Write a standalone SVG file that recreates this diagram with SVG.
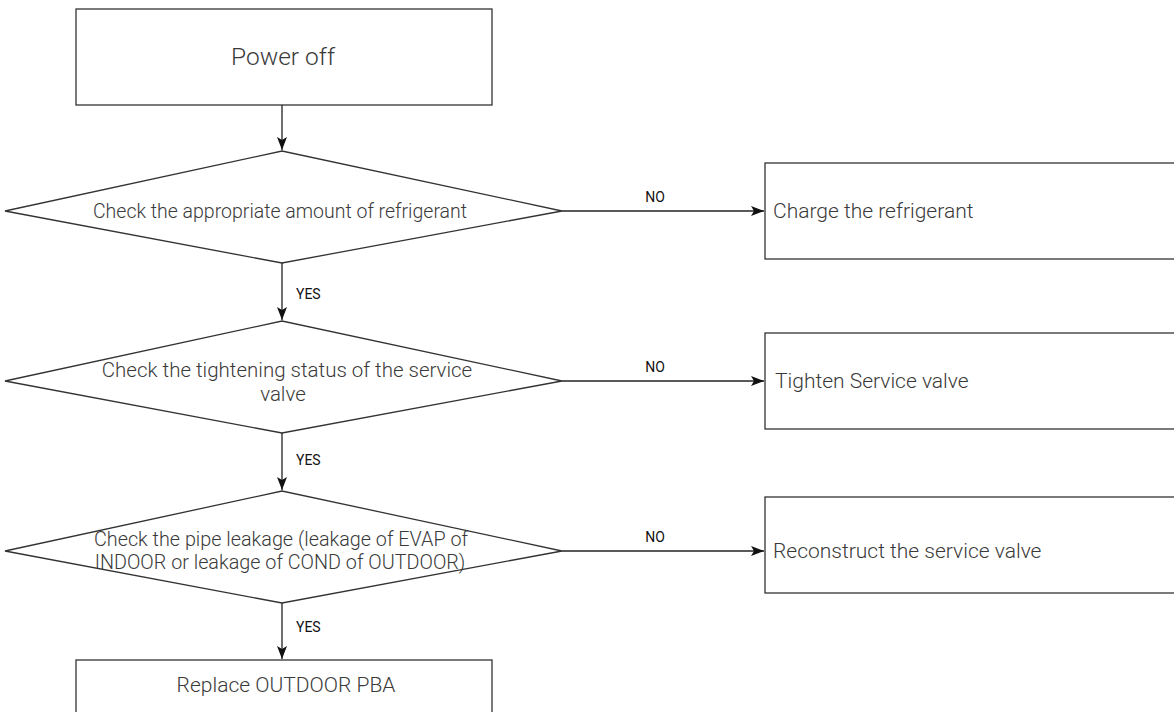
<svg xmlns="http://www.w3.org/2000/svg" width="1174" height="712" viewBox="0 0 1174 712">
<style>
.shape{fill:#fff;stroke:#333;stroke-width:1.3}
.conn{fill:none;stroke:#222;stroke-width:1.3}
.t{font-family:Roboto,"Noto Sans","Liberation Sans",sans-serif;font-weight:300;fill:#3a3a3a}
.lbl{font-family:Roboto,"Noto Sans","Liberation Sans",sans-serif;font-weight:400;font-size:14px;fill:#111}
</style>
<defs>
<marker id="ah" markerUnits="userSpaceOnUse" markerWidth="14" markerHeight="10" refX="13" refY="5" orient="auto">
<path d="M0,0 L13,5 L0,10 L3,5 Z" fill="#111"/>
</marker>
</defs>
<rect width="1174" height="712" fill="#fff"/>
<g id="n-power-off">
<rect class="shape" x="76" y="9" width="416" height="96"/>
<text class="t" x="283" y="65" font-size="24.5" text-anchor="middle">Power off</text>
</g>
<g id="d-refrigerant">
<polygon class="shape" points="5,211 282,151 562,211 282,263"/>
<text class="t" x="280" y="218" font-size="19.5" text-anchor="middle">Check the appropriate amount of refrigerant</text>
</g>
<g id="n-charge">
<rect class="shape" x="765" y="163" width="420" height="96"/>
<text class="t" x="773" y="218" font-size="21">Charge the refrigerant</text>
</g>
<g id="d-tightening">
<polygon class="shape" points="5,381 282,321 562,381 282,433"/>
<text class="t" x="287" y="377" font-size="20.5" text-anchor="middle">Check the tightening status of the service</text>
<text class="t" x="283" y="401" font-size="20.5" text-anchor="middle">valve</text>
</g>
<g id="n-tighten">
<rect class="shape" x="765" y="333" width="420" height="96"/>
<text class="t" x="775" y="388" font-size="21">Tighten Service valve</text>
</g>
<g id="d-leakage">
<polygon class="shape" points="5,551 282,491 562,551 282,603"/>
<text class="t" x="281" y="546" font-size="19.8" text-anchor="middle">Check the pipe leakage (leakage of EVAP of</text>
<text class="t" x="280" y="569" font-size="19.8" text-anchor="middle">INDOOR or leakage of COND of OUTDOOR)</text>
</g>
<g id="n-reconstruct">
<rect class="shape" x="765" y="497" width="420" height="96"/>
<text class="t" x="773" y="558" font-size="21">Reconstruct the service valve</text>
</g>
<g id="n-replace">
<rect class="shape" x="76" y="660" width="416" height="70"/>
<text class="t" x="286" y="692" font-size="21" text-anchor="middle">Replace OUTDOOR PBA</text>
</g>
<g id="connectors">
<line class="conn" x1="282" y1="105" x2="282" y2="150" marker-end="url(#ah)"/>
<line class="conn" x1="282" y1="263" x2="282" y2="320" marker-end="url(#ah)"/>
<line class="conn" x1="282" y1="433" x2="282" y2="490" marker-end="url(#ah)"/>
<line class="conn" x1="282" y1="603" x2="282" y2="659" marker-end="url(#ah)"/>
<line class="conn" x1="562" y1="211" x2="764" y2="211" marker-end="url(#ah)"/>
<line class="conn" x1="562" y1="381" x2="764" y2="381" marker-end="url(#ah)"/>
<line class="conn" x1="562" y1="551" x2="764" y2="551" marker-end="url(#ah)"/>
<text class="lbl" x="296" y="299">YES</text>
<text class="lbl" x="296" y="465">YES</text>
<text class="lbl" x="296" y="632">YES</text>
<text class="lbl" x="655" y="202" text-anchor="middle">NO</text>
<text class="lbl" x="655" y="372" text-anchor="middle">NO</text>
<text class="lbl" x="655" y="542" text-anchor="middle">NO</text>
</g>
</svg>
